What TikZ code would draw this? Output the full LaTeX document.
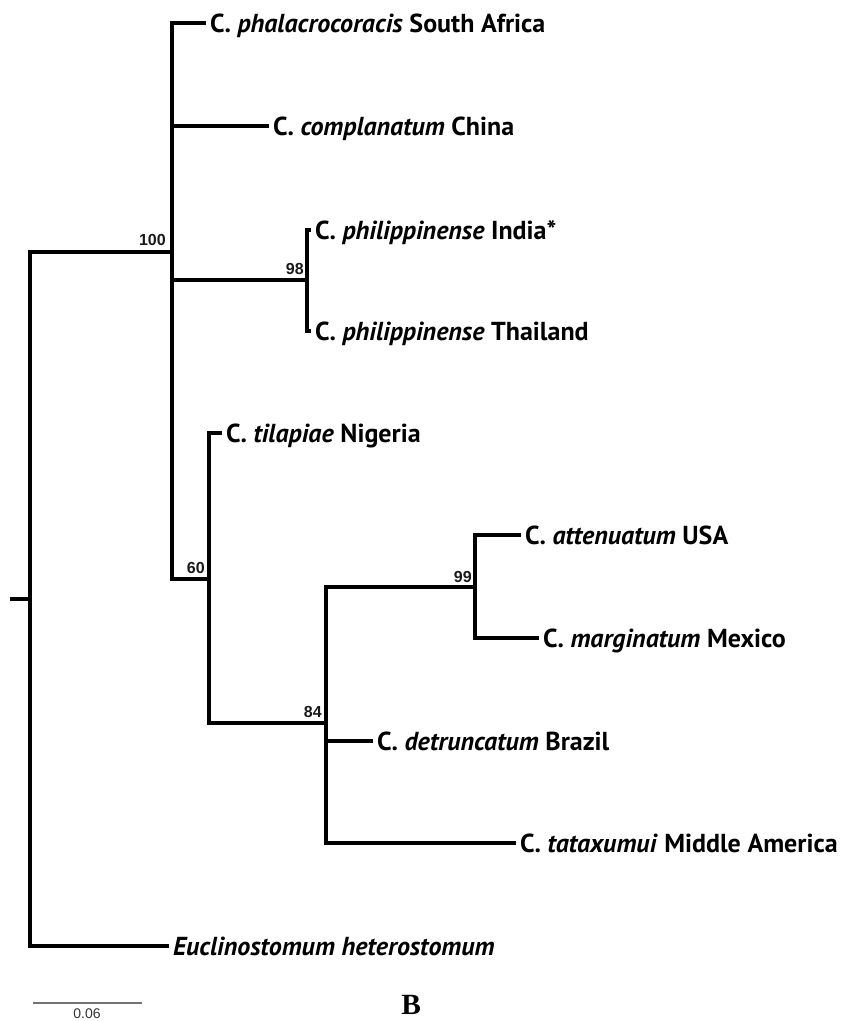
\documentclass[tikz,border=0pt]{standalone}
\usepackage{fontspec}
\setmainfont{PT Sans}
\newfontfamily\numfont{Liberation Sans}
\newfontfamily\bfont{Liberation Serif}
\begin{document}
\begin{tikzpicture}[x=0.75pt,y=-0.75pt,
  br/.style={line width=2.5pt,line join=miter,line cap=butt},
  leaf/.style={anchor=west,inner xsep=3pt,inner ysep=0pt,outer sep=0pt,
    text height=14.5pt,text depth=0pt,font=\fontsize{19.5pt}{22pt}\selectfont\bfseries},
  sup/.style={anchor=base east,inner sep=0pt,font=\numfont\fontsize{12pt}{14pt}\selectfont\bfseries,text=black!90},
  scalebar/.style={line width=1.1pt,draw=black!55}]
\useasboundingbox (0,0) rectangle (840,1021);
% internal nodes
\coordinate (stub) at (10,599);
\coordinate (root) at (30,599);
\coordinate (n100) at (172,252);
\coordinate (n98) at (307,280);
\coordinate (n60) at (209,579);
\coordinate (n84) at (326,723);
\coordinate (n99) at (475,587);
% leaves
\node[leaf] (phal) at (206,23) {C. \textit{phalacrocoracis} South Africa};
\node[leaf] (compl) at (269,126) {C. \textit{complanatum} China};
\node[leaf] (india) at (311,230) {C. \textit{philippinense} India*};
\node[leaf] (thai) at (311,331) {C. \textit{philippinense} Thailand};
\node[leaf] (tila) at (222,433) {C. \textit{tilapiae} Nigeria};
\node[leaf] (atte) at (521,535) {C. \textit{attenuatum} USA};
\node[leaf] (marg) at (539,638) {C. \textit{marginatum} Mexico};
\node[leaf] (detr) at (373,741) {C. \textit{detruncatum} Brazil};
\node[leaf] (tata) at (516,843) {C. \textit{tataxumui} Middle America};
\node[leaf] (eucl) at (169,946) {\textit{Euclinostomum heterostomum}};
% branches
\draw[br] (stub) -- (root);
\draw[br] (root) |- (n100);
\draw[br] (root) |- (eucl.west);
\draw[br] (n100) |- (phal.west);
\draw[br] (n100) |- (compl.west);
\draw[br] (n100) |- (n98);
\draw[br] (n100) |- (n60);
\draw[br] (n98) |- (india.west);
\draw[br] (n98) |- (thai.west);
\draw[br] (n60) |- (tila.west);
\draw[br] (n60) |- (n84);
\draw[br] (n84) |- (n99);
\draw[br] (n84) |- (detr.west);
\draw[br] (n84) |- (tata.west);
\draw[br] (n99) |- (atte.west);
\draw[br] (n99) |- (marg.west);
% support values
\node[sup] (s100) at (166,245) {100};
\node[sup] (s98) at (304,274) {98};
\node[sup] (s60) at (205,573) {60};
\node[sup] (s84) at (322,717) {84};
\node[sup] (s99) at (472,582) {99};
% scale bar
\coordinate (sbl) at (33,1003);
\coordinate (sbr) at (142,1003);
\draw[scalebar] (sbl) -- (sbr);
\node[anchor=north,inner sep=0pt,font=\numfont\fontsize{10.5pt}{12pt}\selectfont,text=black!80] (sbt) at (87,1008) {0.06};
% panel letter
\node[anchor=south west,inner sep=0pt,font=\bfont\fontsize{22pt}{26pt}\selectfont\bfseries] (panel) at (401,1015) {B};
\end{tikzpicture}
\end{document}
